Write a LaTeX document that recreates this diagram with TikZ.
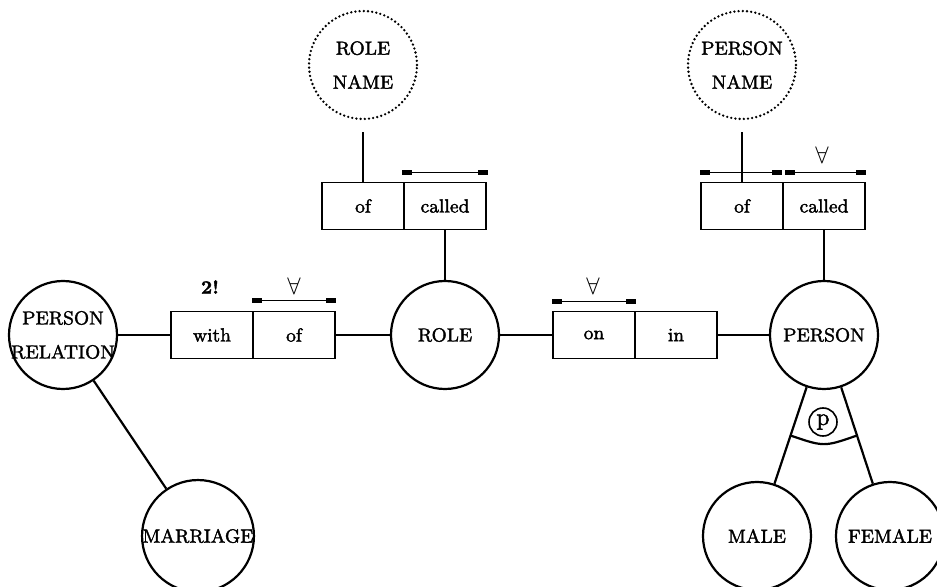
\documentclass[tikz,border=0pt]{standalone}
\usepackage{fontspec}
\setmainfont{Latin Modern Roman}[FakeBold=1.8]
\usetikzlibrary{arrows.meta,calc}
\begin{document}
\begin{tikzpicture}[x=0.5pt,y=-0.5pt,
  font=\fontsize{9.5}{17}\selectfont,
  ent/.style={circle,draw,line width=1.1pt,minimum size=54pt,inner sep=0pt},
  val/.style={ent,line width=1.3pt,line cap=round,dash pattern=on 0pt off 2.1pt},
  rolebox/.style={rectangle,draw,line width=0.8pt,minimum width=41pt,minimum height=23.5pt,inner sep=0pt},
  conn/.style={line width=0.8pt},
  link/.style={line width=1.1pt},
  ubar/.style={line width=0.8pt,{Rectangle[length=5pt,width=2.8pt]}-{Rectangle[length=5pt,width=2.8pt]}},
  lbl/.style={align=center,inner sep=0pt}]
\useasboundingbox (0,0) rectangle (937,587);

% value types (dotted)
\node[val,label={[lbl]center:ROLE\\NAME}] (rolename) at (363,65) {};
\node[val,label={[lbl]center:PERSON\\NAME}] (personname) at (742,65) {};

% entity types
\node[ent] (role) at (445,335) {ROLE};
\node[ent] (person) at (824,335) {PERSON};
\node[ent,label={[lbl]center:PERSON\\RELATION}] (prel) at (63,335) {};
\node[ent] (marriage) at (198,536) {MARRIAGE};
\node[ent] (male) at (757,536) {MALE};
\node[ent] (female) at (890,536) {FEMALE};

% fact types
\node[rolebox] (rnOf) at (363,206) {of};
\node[rolebox] (rnCalled) at (445,206) {called};
\node[rolebox] (pnOf) at (742,206) {of};
\node[rolebox] (pnCalled) at (824,206) {called};
\node[rolebox] (with) at (212,335) {with};
\node[rolebox] (wof) at (294,335) {of};
\node[rolebox] (on) at (594,335) {on};
\node[rolebox] (in) at (676,335) {in};

% role connectors
\draw[conn,shorten <=6pt] (rolename) -- (rnOf);
\draw[conn,shorten <=6pt] (personname) -- (pnOf);
\draw[conn] (rnCalled) -- (role);
\draw[conn] (pnCalled) -- (person);
\draw[conn] (prel) -- (with);
\draw[conn] (wof) -- (role);
\draw[conn] (role) -- (on);
\draw[conn] (in) -- (person);

% subtype links
\draw[link] (prel) -- (marriage);
\draw[link] (person) -- (male);
\draw[link] (person) -- (female);

% partition constraint
\coordinate (sa) at ($(person)!0.5!(male)$);
\coordinate (sb) at ($(person)!0.5!(female)$);
\draw[link] (sa) .. controls ($(person)+(0,112)$) .. (sb);
\node[circle,draw,line width=0.8pt,minimum size=14pt,inner sep=0pt] (pc) at (823,422) {\large p};

% uniqueness constraints
\coordinate (u1a) at ($(rnCalled.north west)+(-1,-9)$);
\coordinate (u1b) at ($(rnCalled.north east)+(1,-9)$);
\draw[ubar] (u1a) -- (u1b);
\coordinate (u2a) at ($(pnOf.north west)+(0,-9)$);
\coordinate (u2b) at ($(pnOf.north east)+(-2,-9)$);
\draw[ubar] (u2a) -- (u2b);
\coordinate (u3a) at ($(pnCalled.north west)+(3,-9)$);
\coordinate (u3b) at ($(pnCalled.north east)+(0,-9)$);
\draw[ubar] (u3a) -- (u3b);
\coordinate (u4a) at ($(wof.north west)+(0,-10)$);
\coordinate (u4b) at ($(wof.north east)+(0,-10)$);
\draw[ubar] (u4a) -- (u4b);
\coordinate (u5a) at ($(on.north west)+(0,-9)$);
\coordinate (u5b) at ($(on.north east)+(0,-9)$);
\draw[ubar] (u5a) -- (u5b);

% constraint annotations
\node (fa1) at (822,155) {\large$\forall$};
\node (fa2) at (294,286) {\large$\forall$};
\node (fa3) at (593,286) {\large$\forall$};
\node (two) at (210,287) {\textbf{2!}};
\end{tikzpicture}
\end{document}
